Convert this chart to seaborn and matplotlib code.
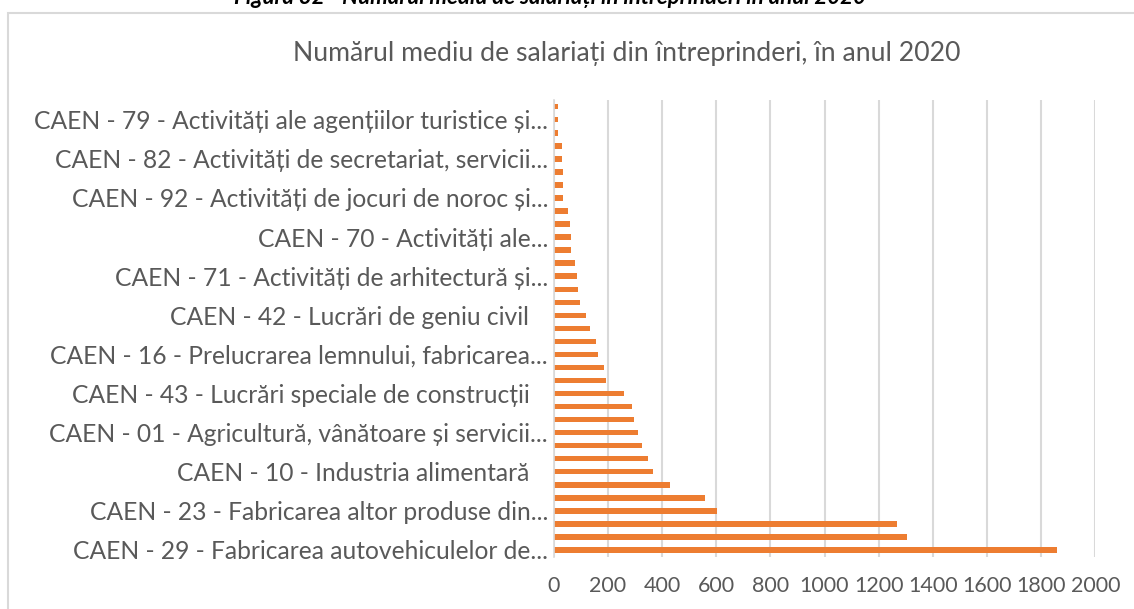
import matplotlib
matplotlib.use("Agg")
import matplotlib.pyplot as plt
import matplotlib.patches as mpatches
import seaborn as sns
import pandas as pd

# Values from bottom (largest) to top, one per CAEN category (35 bars)
values = [1858, 1303, 1267, 602, 558, 428, 367, 348, 327, 312, 297, 290,
          260, 192, 185, 165, 158, 135, 120, 96, 89, 86, 80, 64, 63, 60,
          55, 36, 34, 33, 31, 30, 18, 18, 16]

# Category labels shown on the axis (every third category, from the bottom)
shown_labels = [
    "CAEN - 29 - Fabricarea autovehiculelor de...",
    "CAEN - 23 - Fabricarea altor produse din...",
    "CAEN - 10 - Industria alimentară\u00a0\u00a0\u00a0",
    "CAEN - 01 - Agricultură, vânătoare și servicii...",
    "CAEN - 43 - Lucrări speciale de construcții\u00a0\u00a0\u00a0",
    "CAEN - 16 - Prelucrarea lemnului, fabricarea...",
    "CAEN - 42 - Lucrări de geniu civil\u00a0\u00a0\u00a0",
    "CAEN - 71 - Activități de arhitectură și...",
    "CAEN - 70 - Activități ale...",
    "CAEN - 92 - Activități de jocuri de noroc și...",
    "CAEN - 82 - Activități de secretariat, servicii...",
    "CAEN - 79 - Activități ale agențiilor turistice și...",
]
label_step = 3

title = "Numărul mediu de salariați din întreprinderi, în anul 2020"
caption = "Figura 32 - Numărul mediu de salariați în întreprinderi în anul 2020"
x_ticks = [0, 200, 400, 600, 800, 1000, 1200, 1400, 1600, 1800, 2000]

sns.set_theme(style="white")
plt.rcParams["font.family"] = ["Lato", "DejaVu Sans"]

TXT = "#595959"
GRID = "#D9D9D9"
BAR = "#ED7D31"

fig = plt.figure(figsize=(11.34, 6.09), dpi=100)
ax = fig.add_axes([553.6 / 1134, 1 - 556.5 / 609,
                   (1095.4 - 553.6) / 1134, (556.5 - 100.2) / 609])

df = pd.DataFrame({"pos": list(range(len(values))), "value": values})
sns.barplot(data=df, x="value", y="pos", orient="h", color=BAR,
            width=0.42, native_scale=True, ax=ax, saturation=1,
            edgecolor="none")

ax.set_ylim(-0.5, len(values) - 0.5)
ax.set_xlim(0, 2000)
ax.set_xticks(x_ticks)
ax.set_xticklabels([str(t) for t in x_ticks])
ax.set_yticks(list(range(0, len(values), label_step)))
ax.set_yticklabels(shown_labels)
ax.set_xlabel("")
ax.set_ylabel("")

ax.tick_params(axis="y", length=0, pad=4, labelsize=17.7, labelcolor=TXT)
ax.tick_params(axis="x", length=0, pad=14, labelsize=15.5, labelcolor=TXT)

ax.grid(axis="x", color=GRID, linewidth=1.5)
ax.grid(axis="y", visible=False)
ax.set_axisbelow(True)
for s in ["top", "right", "bottom"]:
    ax.spines[s].set_visible(False)
ax.spines["left"].set_color(GRID)
ax.spines["left"].set_linewidth(1.2)

# chart frame
frame = mpatches.Rectangle((8 / 1134, -0.2), 2.0, 1.2 - 13 / 609,
                           transform=fig.transFigure, fill=False,
                           edgecolor=GRID, linewidth=1.5, clip_on=False)
fig.patches.append(frame)

fig.text(627 / 1134, 1 - 53 / 609, title, ha="center", va="center",
         fontsize=19.2, color=TXT)
fig.text(550 / 1134, 1 - 4 / 609, caption, ha="center", va="baseline",
         fontsize=16, color="black", fontweight="bold", fontstyle="italic")

fig.savefig("out.png", dpi=100)
